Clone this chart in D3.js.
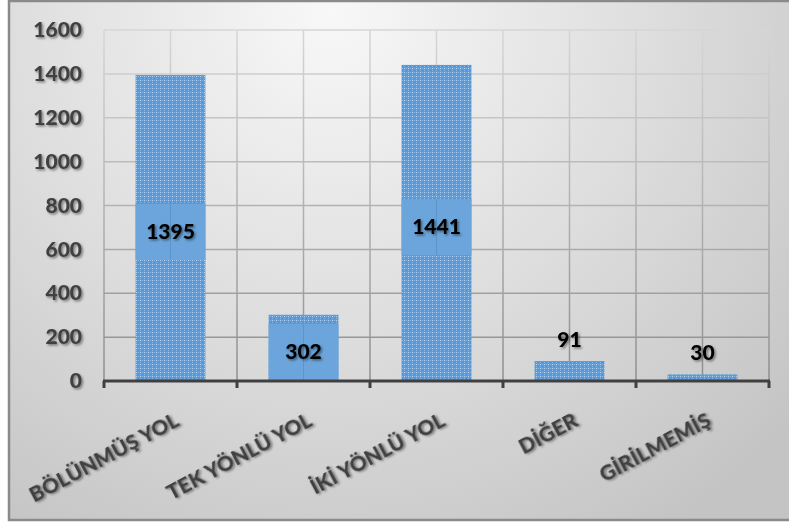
<!DOCTYPE html>
<html>
<head>
<meta charset="utf-8">
<script src="https://cdn.jsdelivr.net/npm/d3@7"></script>
<style>
  html, body { margin: 0; padding: 0; background: #ffffff; }
  svg { display: block; }
</style>
</head>
<body>
<svg id="chart" width="789" height="525"></svg>
<script>
// Road type counts
const categories = ["BÖLÜNMÜŞ YOL", "TEK YÖNLÜ YOL", "İKİ YÖNLÜ YOL", "DİĞER", "GİRİLMEMİŞ"];
const values = [1395, 302, 1441, 91, 30];
const yTicks = [0, 200, 400, 600, 800, 1000, 1200, 1400, 1600];

const svg = d3.select("#chart");
const W = 789, H = 525;
const plot = { left: 104, right: 769, top: 30, bottom: 381 };
const FONT = "Lato, 'Open Sans', sans-serif";

const defs = svg.append("defs");

// Chart background: soft light-to-grey gradient
const bg = defs.append("radialGradient")
  .attr("id", "bgGrad")
  .attr("gradientUnits", "userSpaceOnUse")
  .attr("cx", 330).attr("cy", 10).attr("r", 620);
bg.append("stop").attr("offset", "0%").attr("stop-color", "#f8f8f8");
bg.append("stop").attr("offset", "55%").attr("stop-color", "#dcdcdc");
bg.append("stop").attr("offset", "100%").attr("stop-color", "#c4c4c4");

// Grid lines get darker toward the bottom
const gg = defs.append("linearGradient")
  .attr("id", "gridGrad")
  .attr("gradientUnits", "userSpaceOnUse")
  .attr("x1", 0).attr("y1", plot.top).attr("x2", 0).attr("y2", plot.bottom);
gg.append("stop").attr("offset", "0%").attr("stop-color", "#d6d6d6");
gg.append("stop").attr("offset", "100%").attr("stop-color", "#8e8e8e");

// Dotted texture for the bar fill
const pat = defs.append("pattern")
  .attr("id", "barTex")
  .attr("patternUnits", "userSpaceOnUse")
  .attr("width", 4).attr("height", 4);
pat.append("rect").attr("width", 4).attr("height", 4).attr("fill", "#5b9bd8");
pat.append("rect").attr("x", 0).attr("y", 0).attr("width", 1).attr("height", 1).attr("fill", "#b2d3f2");
pat.append("rect").attr("x", 2).attr("y", 0).attr("width", 1).attr("height", 1).attr("fill", "#86b7e7");
pat.append("rect").attr("x", 0).attr("y", 2).attr("width", 1).attr("height", 1).attr("fill", "#86b7e7");
pat.append("rect").attr("x", 2).attr("y", 2).attr("width", 1).attr("height", 1).attr("fill", "#4a8acb");

// Soft drop shadow used on all text
const sh = defs.append("filter").attr("id", "txtShadow")
  .attr("x", "-20%").attr("y", "-30%").attr("width", "140%").attr("height", "160%");
sh.append("feDropShadow")
  .attr("dx", 1.5).attr("dy", 1.5).attr("stdDeviation", 1)
  .attr("flood-color", "#000").attr("flood-opacity", 0.45);

// Background and frame
svg.append("rect").attr("x", 9).attr("y", 1).attr("width", W + 10).attr("height", 519)
  .attr("fill", "url(#bgGrad)").attr("stroke", "#8a8a8a").attr("stroke-width", 2.5);

// Scales
const x = d3.scaleBand().domain(categories).range([plot.left, plot.right]).paddingInner(0).paddingOuter(0);
const y = d3.scaleLinear().domain([0, 1600]).range([plot.bottom, plot.top]);
const barW = x.bandwidth() * 0.525;

// Horizontal grid
svg.append("g").selectAll("line").data(yTicks.filter(d => d > 0)).join("line")
  .attr("x1", plot.left).attr("x2", plot.right)
  .attr("y1", d => y(d)).attr("y2", d => y(d))
  .attr("stroke", "url(#gridGrad)").attr("stroke-width", 1.5);

// Vertical grid: category edges and centers
const vLines = [];
categories.forEach(c => { vLines.push(x(c)); vLines.push(x(c) + x.bandwidth() / 2); });
vLines.push(plot.right);
svg.append("g").selectAll("line").data(vLines).join("line")
  .attr("x1", d => d).attr("x2", d => d)
  .attr("y1", plot.top).attr("y2", plot.bottom)
  .attr("stroke", "url(#gridGrad)").attr("stroke-width", 1.5);

// Bars
svg.append("g").selectAll("rect").data(values).join("rect")
  .attr("x", (d, i) => x(categories[i]) + (x.bandwidth() - barW) / 2)
  .attr("y", d => y(d))
  .attr("width", barW)
  .attr("height", d => y(0) - y(d))
  .attr("fill", "url(#barTex)");

// Value labels: inside a solid box when the bar is tall enough, otherwise above
const boxH = 56;
const labels = svg.append("g");
values.forEach((v, i) => {
  const cx = x(categories[i]) + x.bandwidth() / 2;
  const barH = y(0) - y(v);
  let ty;
  if (barH > boxH) {
    const cy = Math.min((y(v) + y(0)) / 2 + 4, y(0) - boxH / 2);
    labels.append("rect")
      .attr("x", cx - barW / 2).attr("y", cy - boxH / 2)
      .attr("width", barW).attr("height", boxH)
      .attr("fill", "#6ba5db");
    labels.append("line")
      .attr("x1", cx).attr("x2", cx).attr("y1", cy - boxH / 2).attr("y2", cy + boxH / 2)
      .attr("stroke", "#5d95cb").attr("stroke-width", 1);
    ty = cy + 7;
  } else {
    ty = y(v) - 14;
  }
  labels.append("text")
    .attr("x", cx).attr("y", ty)
    .attr("text-anchor", "middle")
    .attr("font-family", FONT)
    .attr("font-weight", 900).attr("font-size", 21)
    .attr("fill", "#000").attr("filter", "url(#txtShadow)")
    .text(v);
});

// Y axis labels
const yAxis = svg.append("g")
  .attr("transform", `translate(${plot.left - 22},0)`)
  .call(d3.axisLeft(y).tickValues(yTicks).tickFormat(d3.format("d")).tickSize(0).tickPadding(0));
yAxis.select(".domain").remove();
yAxis.selectAll("text")
  .attr("font-family", FONT)
  .attr("font-weight", 900).attr("font-size", 21)
  .attr("fill", "#404040").attr("filter", "url(#txtShadow)");

// X axis line with boundary ticks
const xAxis = svg.append("g").attr("transform", `translate(0,${plot.bottom})`);
xAxis.append("line").attr("x1", plot.left - 1).attr("x2", plot.right + 1)
  .attr("stroke", "#404040").attr("stroke-width", 3);
const edges = categories.map(c => x(c)).concat([plot.right]);
xAxis.selectAll("line.tick").data(edges).join("line").attr("class", "tick")
  .attr("x1", d => d).attr("x2", d => d).attr("y1", 0).attr("y2", 7)
  .attr("stroke", "#404040").attr("stroke-width", 3);

// Rotated category labels
svg.append("g").selectAll("text").data(categories).join("text")
  .attr("transform", d => `translate(${x(d) + x.bandwidth() / 2 + 10},${plot.bottom + 44}) rotate(-28)`)
  .attr("text-anchor", "end")
  .attr("font-family", FONT)
  .attr("font-weight", 900).attr("font-size", 21)
  .attr("fill", "#404040").attr("filter", "url(#txtShadow)")
  .text(d => d);
</script>
</body>
</html>
